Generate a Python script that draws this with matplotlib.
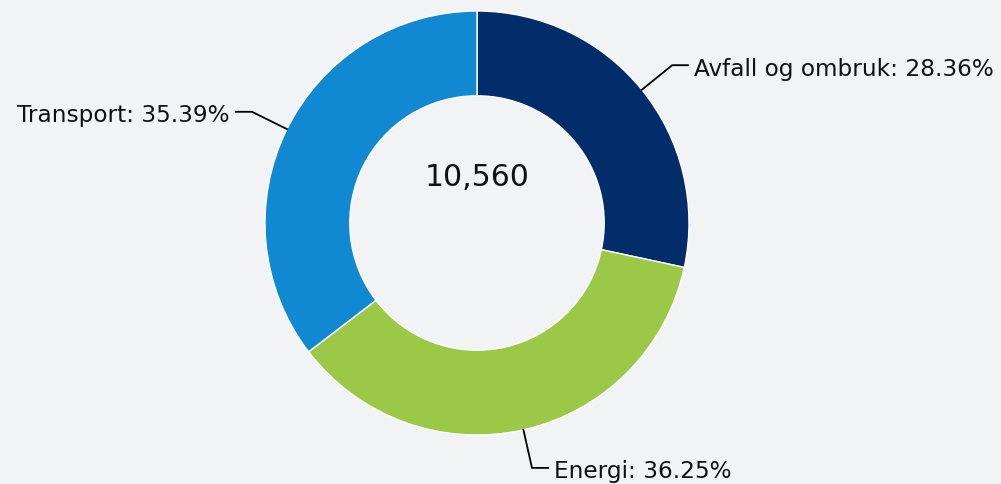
import matplotlib.pyplot as plt
import numpy as np

# Donut chart: share by sector
labels = ["Avfall og ombruk", "Energi", "Transport"]
shares = [28.36, 36.25, 35.39]
colors = ["#032c6b", "#9bc846", "#1189d2"]
total_label = "10,560"

W, H = 1001, 485
fig = plt.figure(figsize=(W / 100, H / 100), dpi=100)
fig.patch.set_facecolor("#f2f3f5")
ax = fig.add_axes([0, 0, 1, 1])
ax.set_facecolor("#f2f3f5")

cx, cy, r = 477, H - 224, 212
wedges, _ = ax.pie(
    shares,
    colors=colors,
    startangle=90,
    counterclock=False,
    radius=r,
    center=(cx, cy),
    wedgeprops=dict(width=r * 0.4, edgecolor="white", linewidth=1),
    frame=True,
)
ax.set_xlim(0, W)
ax.set_ylim(0, H)
ax.set_aspect("equal")
ax.axis("off")

for w, lab, val in zip(wedges, labels, shares):
    ang = np.deg2rad((w.theta1 + w.theta2) / 2)
    x0, y0 = cx + r * np.cos(ang), cy + r * np.sin(ang)
    x1, y1 = cx + 251 * np.cos(ang), cy + 251 * np.sin(ang)
    side = 1 if np.cos(ang) >= 0 else -1
    x2 = x1 + side * 16
    ax.plot([x0, x1, x2], [y0, y1, y1], color="black", lw=1.3)
    ax.text(x2 + side * 6, y1 - 3, f"{lab}: {val:.2f}%", fontsize=16.7,
            ha="left" if side > 0 else "right", va="center", color="#111111")

ax.text(cx, H - 178, total_label, fontsize=21.5, ha="center", va="center", color="#111111")

fig.savefig("out.png", dpi=100, facecolor=fig.get_facecolor())
